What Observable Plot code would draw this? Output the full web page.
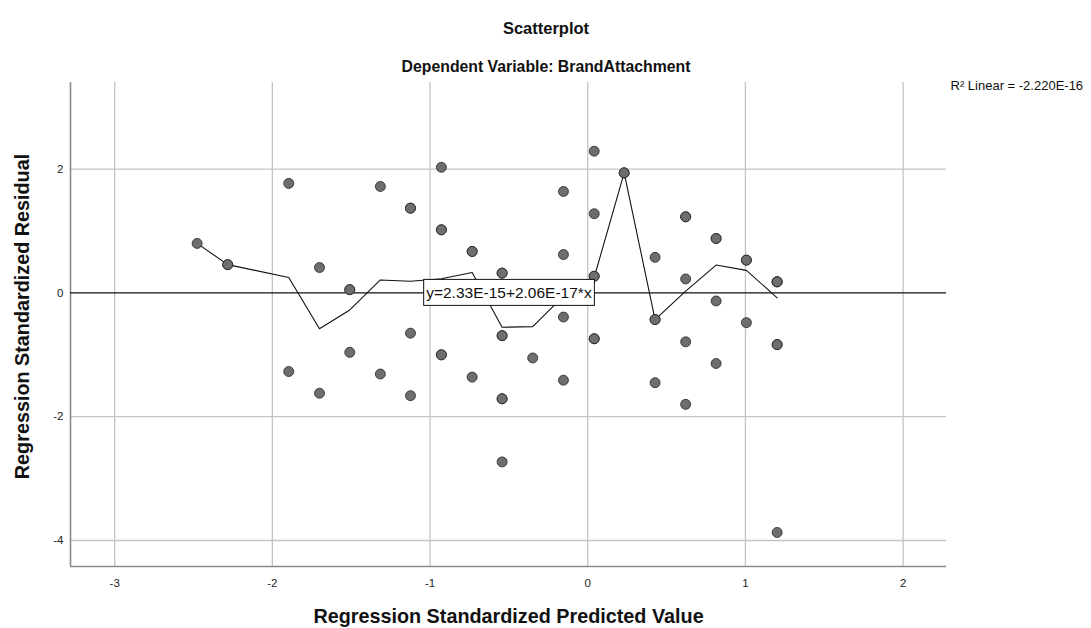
<!DOCTYPE html>
<html>
<head>
<meta charset="utf-8">
<script src="https://cdn.jsdelivr.net/npm/d3@7"></script>
<script src="https://cdn.jsdelivr.net/npm/@observablehq/plot@0.6"></script>
<style>
  html, body { margin: 0; padding: 0; background: #fff; }
  #chart { width: 1091px; height: 628px; }
</style>
</head>
<body>
<div id="chart"></div>
<script>
// ---- Data ----
const predicted = [
  -2.477,
  -2.283,
  -1.896, -1.896,
  -1.701, -1.701,
  -1.509, -1.509,
  -1.315, -1.315,
  -1.124, -1.124, -1.124,
  -0.928, -0.928, -0.928,
  -0.733, -0.733,
  -0.543, -0.543, -0.543, -0.543,
  -0.349,
  -0.154, -0.154, -0.154, -0.154,
  0.041, 0.041, 0.041, 0.041,
  0.231,
  0.427, 0.427, 0.427,
  0.621, 0.621, 0.621, 0.621,
  0.814, 0.814, 0.814,
  1.006, 1.006,
  1.201, 1.201, 1.201
];
const residual = [
  0.80,
  0.457,
  1.77, -1.27,
  0.41, -1.62,
  0.053, -0.96,
  1.72, -1.31,
  1.37, -0.65, -1.66,
  2.03, 1.02, -1.00,
  0.67, -1.36,
  0.32, -0.69, -1.71, -2.73,
  -1.05,
  1.64, 0.62, -0.39, -1.41,
  2.29, 1.28, 0.27, -0.74,
  1.94,
  0.575, -0.43, -1.45,
  1.23, 0.226, -0.79, -1.80,
  0.88, -0.13, -1.14,
  0.53, -0.48,
  0.18, -0.835, -3.87
];
// number of overlapping cases drawn at each position
const caseCount = [
  1,
  2,
  1, 1,
  1, 1,
  2, 1,
  1, 1,
  2, 1, 1,
  1, 2, 2,
  2, 1,
  2, 2, 2, 1,
  1,
  1, 1, 1, 1,
  1, 1, 2, 2,
  2,
  1, 2, 1,
  2, 1, 1, 1,
  2, 1, 1,
  2, 1,
  3, 2, 1
];
// interpolation (mean) line vertices
const lineX = [-2.477, -2.283, -1.896, -1.701, -1.509, -1.315, -1.124, -0.928, -0.733, -0.543, -0.349, -0.154, 0.041, 0.231, 0.427, 0.621, 0.814, 1.006, 1.201];
const lineY = [0.80, 0.457, 0.25, -0.58, -0.275, 0.21, 0.19, 0.23, 0.33, -0.555, -0.545, -0.05, 0.25, 1.94, -0.43, 0.03, 0.45, 0.365, -0.08];

const xTicks = [-3, -2, -1, 0, 1, 2];
const yTicks = [-4, -2, 0, 2];
const xDomain = [-3.28, 2.275];
const yDomain = [-4.42, 3.40];

const fitIntercept = 0;     // fit line value (≈ 2.33E-15)
const fitLabel = "y=2.33E-15+2.06E-17*x";
const fitLabelX = -0.5;
const r2Label = "R\u00B2 Linear = -2.220E-16";
const title = "Scatterplot";
const subtitle = "Dependent Variable: BrandAttachment";
const xLabel = "Regression Standardized Predicted Value";
const yLabel = "Regression Standardized Residual";

// ---- Build tables ----
const points = [];
predicted.forEach((x, i) => {
  for (let k = 0; k < caseCount[i]; k++) points.push({x, y: residual[i]});
});
const linePts = lineX.map((x, i) => ({x, y: lineY[i]}));

const font = "'Liberation Sans', Arial, Helvetica, sans-serif";

const plot = Plot.plot({
  width: 1091,
  height: 628,
  marginTop: 82,
  marginRight: 145,
  marginBottom: 62,
  marginLeft: 70,
  style: {fontFamily: font, fontSize: "11.5px", color: "#222", background: "#fff"},
  x: {domain: xDomain, ticks: xTicks, tickSize: 0, tickPadding: 12, label: null, tickFormat: d => d < 0 ? "-" + Math.abs(d) : String(d)},
  y: {domain: yDomain, ticks: yTicks, tickSize: 0, tickPadding: 7, label: null, tickFormat: d => d < 0 ? "-" + Math.abs(d) : String(d)},
  marks: [
    Plot.ruleX(xTicks, {stroke: "#c4c4c4", strokeWidth: 1.3}),
    Plot.ruleY(yTicks.filter(d => d !== 0), {stroke: "#c4c4c4", strokeWidth: 1.3}),
    Plot.ruleX([xDomain[0]], {stroke: "#8a8a8a", strokeWidth: 1.6}),
    Plot.ruleY([yDomain[0]], {stroke: "#8a8a8a", strokeWidth: 1.6}),
    Plot.ruleY([fitIntercept], {stroke: "#111", strokeWidth: 1.2}),
    Plot.line(linePts, {x: "x", y: "y", stroke: "#111", strokeWidth: 1.1}),
    Plot.dot(points, {x: "x", y: "y", r: 5, fill: "#6e6e6e", stroke: "#1e1e1e", strokeOpacity: 0.75, strokeWidth: 1}),
    Plot.text([fitLabel], {x: [fitLabelX], y: [fitIntercept], text: d => d, fontSize: 15.5, fill: "#111", textAnchor: "middle", lineAnchor: "middle"}),
    Plot.text([r2Label], {text: d => d, frameAnchor: "top-right", textAnchor: "start", lineAnchor: "middle", dx: 4, dy: 3, fontSize: 13, fill: "#111"}),
    Plot.text([title], {text: d => d, frameAnchor: "top", textAnchor: "middle", lineAnchor: "middle", dx: 37.5, dy: -54, fontSize: 16.5, fontWeight: "bold", fill: "#111"}),
    Plot.text([subtitle], {text: d => d, frameAnchor: "top", textAnchor: "middle", lineAnchor: "middle", dx: 37.5, dy: -16, fontSize: 15.8, fontWeight: "bold", fill: "#111"}),
    Plot.text([xLabel], {text: d => d, frameAnchor: "bottom", textAnchor: "middle", lineAnchor: "middle", dy: 50, fontSize: 19.8, fontWeight: "bold", fill: "#111"}),
    Plot.text([yLabel], {text: d => d, frameAnchor: "left", textAnchor: "middle", lineAnchor: "middle", dx: -48, dy: -8, rotate: -90, fontSize: 19.8, fontWeight: "bold", fill: "#111"})
  ]
});
document.getElementById("chart").appendChild(plot);

// white boxed background for the fit-line label
const svg = plot.tagName.toLowerCase() === "svg" ? plot : plot.querySelector("svg");
svg.querySelectorAll("text").forEach(t => {
  if (t.textContent === fitLabel) {
    const b = t.getBBox();
    const rect = document.createElementNS("http://www.w3.org/2000/svg", "rect");
    rect.setAttribute("x", b.x - 2.5);
    rect.setAttribute("y", b.y - 4.5);
    rect.setAttribute("width", b.width + 5);
    rect.setAttribute("height", b.height + 9);
    rect.setAttribute("fill", "#fff");
    rect.setAttribute("stroke", "#111");
    rect.setAttribute("stroke-width", "1");
    const tr = t.getAttribute("transform");
    if (tr) rect.setAttribute("transform", tr);
    t.parentNode.insertBefore(rect, t);
  }
});
</script>
</body>
</html>
